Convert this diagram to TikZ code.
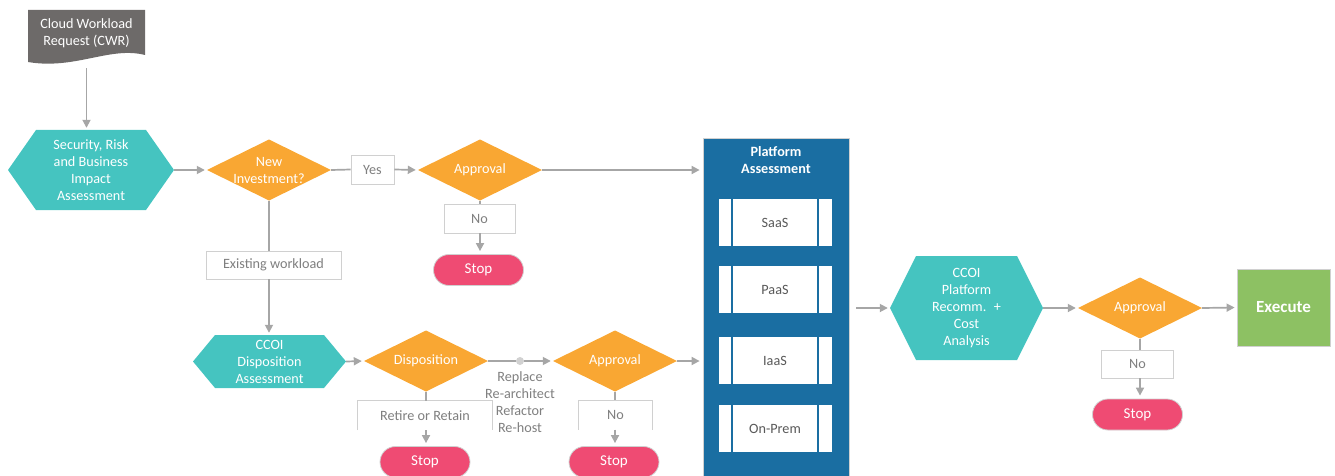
\documentclass[tikz,border=0pt]{standalone}
\usepackage{fontspec}
\setmainfont{Carlito}
\usetikzlibrary{arrows.meta,calc}
\definecolor{tealc}{HTML}{45C4C0}
\definecolor{orangec}{HTML}{F9A733}
\definecolor{stopc}{HTML}{EF4B73}
\definecolor{greenc}{HTML}{8DC163}
\definecolor{bluec}{HTML}{1A6EA2}
\definecolor{docc}{HTML}{6D6A69}
\definecolor{linec}{HTML}{A6A6A6}
\definecolor{boxc}{HTML}{D0D0D0}
\definecolor{txtc}{HTML}{7F7F7F}
\definecolor{darktxt}{HTML}{595959}
\begin{document}
\begin{tikzpicture}[x=1pt,y=-1pt,
  base/.style={font=\fontsize{14.2}{17}\selectfont, align=center, inner sep=0pt},
  hexs/.style={base, text=white, path picture={
      \fill[tealc] (path picture bounding box.west)
        -- ([xshift=#1]path picture bounding box.north west)
        -- ([xshift=-#1]path picture bounding box.north east)
        -- (path picture bounding box.east)
        -- ([xshift=-#1]path picture bounding box.south east)
        -- ([xshift=#1]path picture bounding box.south west) -- cycle;}},
  dia/.style={base, text=white, minimum width=124pt, minimum height=61pt,
    path picture={\fill[orangec] (path picture bounding box.west)
        -- (path picture bounding box.north) -- (path picture bounding box.east)
        -- (path picture bounding box.south) -- cycle;}},
  lbl/.style={base, draw=boxc, fill=white, text=txtc, line width=0.8pt},
  lblopen/.style={base, fill=white, text=txtc},
  openedge/.style={draw=boxc, line width=0.8pt},
  stopn/.style={base, font=\fontsize{15}{17}\selectfont, fill=stopc, text=white,
    draw=boxc, line width=0.8pt, rounded corners=15.5pt, minimum width=90pt, minimum height=31pt},
  pbox/.style={base, fill=white, text=darktxt, minimum width=113pt, minimum height=47pt,
    path picture={\draw[bluec, line width=1.5pt]
      ([xshift=13.5pt]path picture bounding box.north west) -- ([xshift=13.5pt]path picture bounding box.south west)
      ([xshift=-13.5pt]path picture bounding box.north east) -- ([xshift=-13.5pt]path picture bounding box.south east);}},
  ln/.style={draw=linec, line width=1.7pt},
  arr/.style={ln, -{Triangle[length=8pt,width=8pt]}, shorten >=2pt},
]
\useasboundingbox (0,0) rectangle (1335,476);

% Cloud Workload Request document
\fill[docc] (28,10) -- (145,10) -- (145,55) .. controls (110,46) and (75,70) .. (28,62) -- cycle;
\node[base, text=white, minimum width=117pt, minimum height=50pt] (cwr) at (86.5,33) {Cloud Workload\\Request (CWR)};

% shapes
\node[hexs=28pt, minimum width=166pt, minimum height=80pt] (h1) at (91,170) {Security, Risk\\and Business\\Impact\\Assessment};
\node[dia] (d1) at (269,170) {New\\Investment?};
\node[dia] (d2) at (480,170) {Approval};
\node[hexs=22pt, minimum width=153pt, minimum height=53pt] (h2) at (269.5,361.5) {CCOI\\Disposition\\Assessment};
\node[dia] (d3) at (426,361) {Disposition};
\node[dia] (d4) at (615,361) {Approval};
\node[hexs=26pt, minimum width=153pt, minimum height=104pt] (h3) at (966.5,308) {CCOI\\Platform\\Recomm.~ +\\Cost\\Analysis};
\node[dia] (d5) at (1140,308) {Approval};
\node[base, font=\fontsize{17}{20}\selectfont\bfseries, text=white, fill=greenc, draw=boxc, line width=0.8pt,
  minimum width=93pt, minimum height=77pt] (exec) at (1283.5,307.5) {Execute};

% platform assessment
\node[fill=bluec, draw=boxc, line width=0.8pt, minimum width=146pt, minimum height=350pt, anchor=north] (plat) at (776,138) {};
\node[base, font=\fontsize{14.2}{17}\selectfont\bfseries, text=white] (ptitle) at (776,160.5) {Platform\\Assessment};
\node[pbox] (saas) at (775,222.5) {SaaS};
\node[pbox] (paas) at (775,289.5) {PaaS};
\node[pbox] (iaas) at (775,360.5) {IaaS};
\node[pbox] (onprem) at (775,428.5) {On-Prem};

% labels
\node[lbl, minimum width=43pt, minimum height=29pt] (yes) at (372.5,169.5) {Yes};
\node[lbl, minimum width=71pt, minimum height=29pt] (no1) at (479.5,218.5) {No};
\node[lbl, minimum width=135pt, minimum height=28pt] (ew) at (273.5,265) {Existing workload};
\node[lblopen, minimum width=134pt, minimum height=29pt] (rr) at (425,415.5) {Retire or Retain};
\draw[openedge] (rr.south west) -- (rr.north west) -- (rr.north east) -- (rr.south east);
\node[lblopen, minimum width=73pt, minimum height=29pt] (no2) at (615.5,415) {No};
\draw[openedge] (no2.south west) -- (no2.north west) -- (no2.north east) -- (no2.south east);
\node[lbl, minimum width=72pt, minimum height=28pt] (no3) at (1137.5,364) {No};
\node[circle, fill=black!18, inner sep=0pt, minimum size=8pt] (dot) at (520,361) {};
\node[base, text=txtc, anchor=north] (rep) at (520,371) {Replace\\Re-architect\\Refactor\\Re-host};

% stops
\node[stopn] (s1) at (478.5,270) {Stop};
\node[stopn] (s2) at (425,462) {Stop};
\node[stopn] (s3) at (614,462) {Stop};
\node[stopn] (s4) at (1137.5,414.5) {Stop};

% connectors
\draw[arr, shorten <=10pt] (cwr.south) -- (cwr.south |- h1.north);
\draw[arr] (h1.east) -- (d1.west);
\draw[ln] (d1.east) -- (yes.west);
\draw[arr] (yes.east) -- (d2.west);
\draw[arr, shorten >=3pt] (d2.east) -- (d2.east -| plat.west);
\draw[ln] (d2.south) -- (d2.south |- no1.north);
\draw[arr, shorten >=3pt] (d2.south |- no1.south) -- (d2.south |- s1.north);
\draw[ln] (d1.south) -- (d1.south |- ew.north);
\draw[arr] (d1.south |- ew.south) -- (d1.south |- h2.north);
\draw[arr] (h2.east) -- (d3.west);
\draw[ln] (d3.east) -- (dot);
\draw[arr] (dot) -- (d4.west);
\draw[ln] (d3.south) -- (d3.south |- rr.north);
\draw[arr, shorten >=3pt] (d3.south |- rr.south) -- (d3.south |- s2.north);
\draw[arr, shorten >=3pt] (d4.east) -- (d4.east -| plat.west);
\draw[ln] (d4.south) -- (d4.south |- no2.north);
\draw[arr, shorten >=3pt] (d4.south |- no2.south) -- (d4.south |- s3.north);
\draw[arr, shorten <=7pt] (plat.east |- h3.west) -- (h3.west);
\draw[arr] (h3.east) -- (d5.west);
\draw[arr] (d5.east) -- (exec.west);
\draw[ln] (d5.south) -- (d5.south |- no3.north);
\draw[arr, shorten >=3pt] (d5.south |- no3.south) -- (d5.south |- s4.north);
\end{tikzpicture}
\end{document}
